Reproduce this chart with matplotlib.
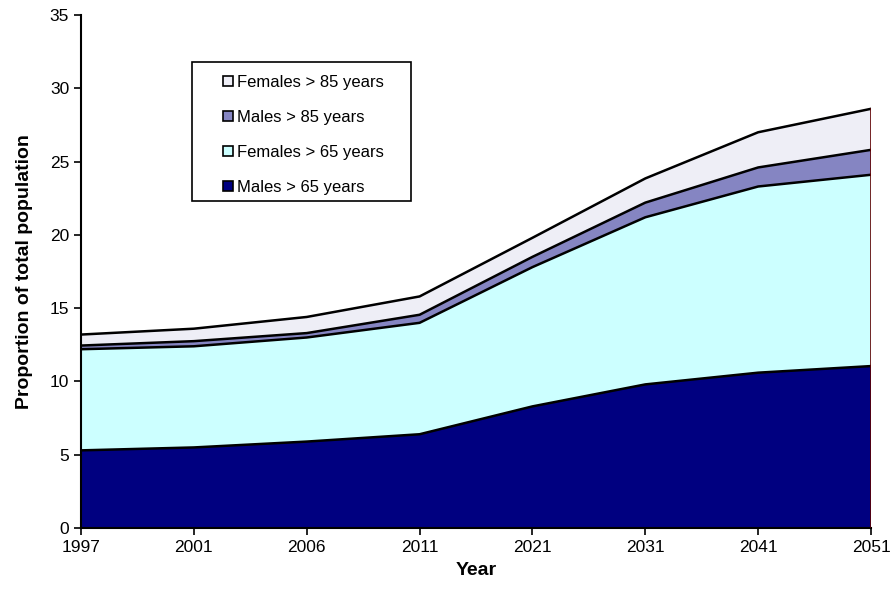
import matplotlib
matplotlib.use("Agg")
import matplotlib.pyplot as plt
import numpy as np
from matplotlib.patches import Patch, Rectangle

plt.rcParams['font.family'] = ['Liberation Sans', 'DejaVu Sans']

years = ["1997", "2001", "2006", "2011", "2021", "2031", "2041", "2051"]
males_65 = [5.3, 5.5, 5.9, 6.4, 8.3, 9.8, 10.6, 11.05]
females_65 = [6.9, 6.9, 7.1, 7.6, 9.5, 11.4, 12.7, 13.05]
males_85 = [0.25, 0.35, 0.3, 0.55, 0.7, 1.0, 1.3, 1.7]
females_85 = [0.75, 0.85, 1.1, 1.25, 1.3, 1.65, 2.4, 2.8]

series = [
    ("Males > 65 years", males_65, "#000080"),
    ("Females > 65 years", females_65, "#CCFFFF"),
    ("Males > 85 years", males_85, "#8585C2"),
    ("Females > 85 years", females_85, "#EEEEF6"),
]

fig = plt.figure(figsize=(8.93, 5.92), dpi=100)
ax = fig.add_axes([0.0907, 0.108, 0.8847, 0.8667])

x = np.arange(len(years))
base = np.zeros(len(years))
for name, vals, color in series:
    top = base + np.array(vals)
    ax.fill_between(x, base, top, facecolor=color, edgecolor="none", zorder=2)
    ax.plot(x, top, color="black", lw=1.8, zorder=3)
    ax.plot([x[-1], x[-1]], [base[-1], top[-1]], color="#600000", lw=1.2, zorder=3)
    base = top

ax.set_xlim(0, len(years) - 1)
ax.set_ylim(0, 35)
ax.set_xticks(x)
ax.set_xticklabels(years)
ax.set_yticks(range(0, 36, 5))
ax.tick_params(axis="both", labelsize=12.5, direction="out", length=5, width=1.2, colors="black")
for s in ("top", "right"):
    ax.spines[s].set_visible(False)
for s in ("left", "bottom"):
    ax.spines[s].set_linewidth(1.5)

ax.set_xlabel("Year", fontsize=14, fontweight="bold", labelpad=5)
ax.set_ylabel("Proportion of total population", fontsize=14, fontweight="bold", labelpad=12)

# legend frame
ax.add_patch(Rectangle((0.1405, 0.6374), 0.2775, 0.2715, transform=ax.transAxes,
                       facecolor="white", edgecolor="black", lw=1.2, zorder=5))
handles = [Patch(facecolor=c, edgecolor="black", linewidth=1.2, label=n) for n, v, c in series][::-1]
leg = ax.legend(handles=handles, loc="upper left", bbox_to_anchor=(0.1797, 0.8836),
                fontsize=12, frameon=False,
                handlelength=0.6, handleheight=0.6, handletextpad=0.25,
                labelspacing=1.2, borderpad=0, borderaxespad=0)
leg.set_zorder(6)

fig.savefig("out.png", dpi=100, facecolor="white")
